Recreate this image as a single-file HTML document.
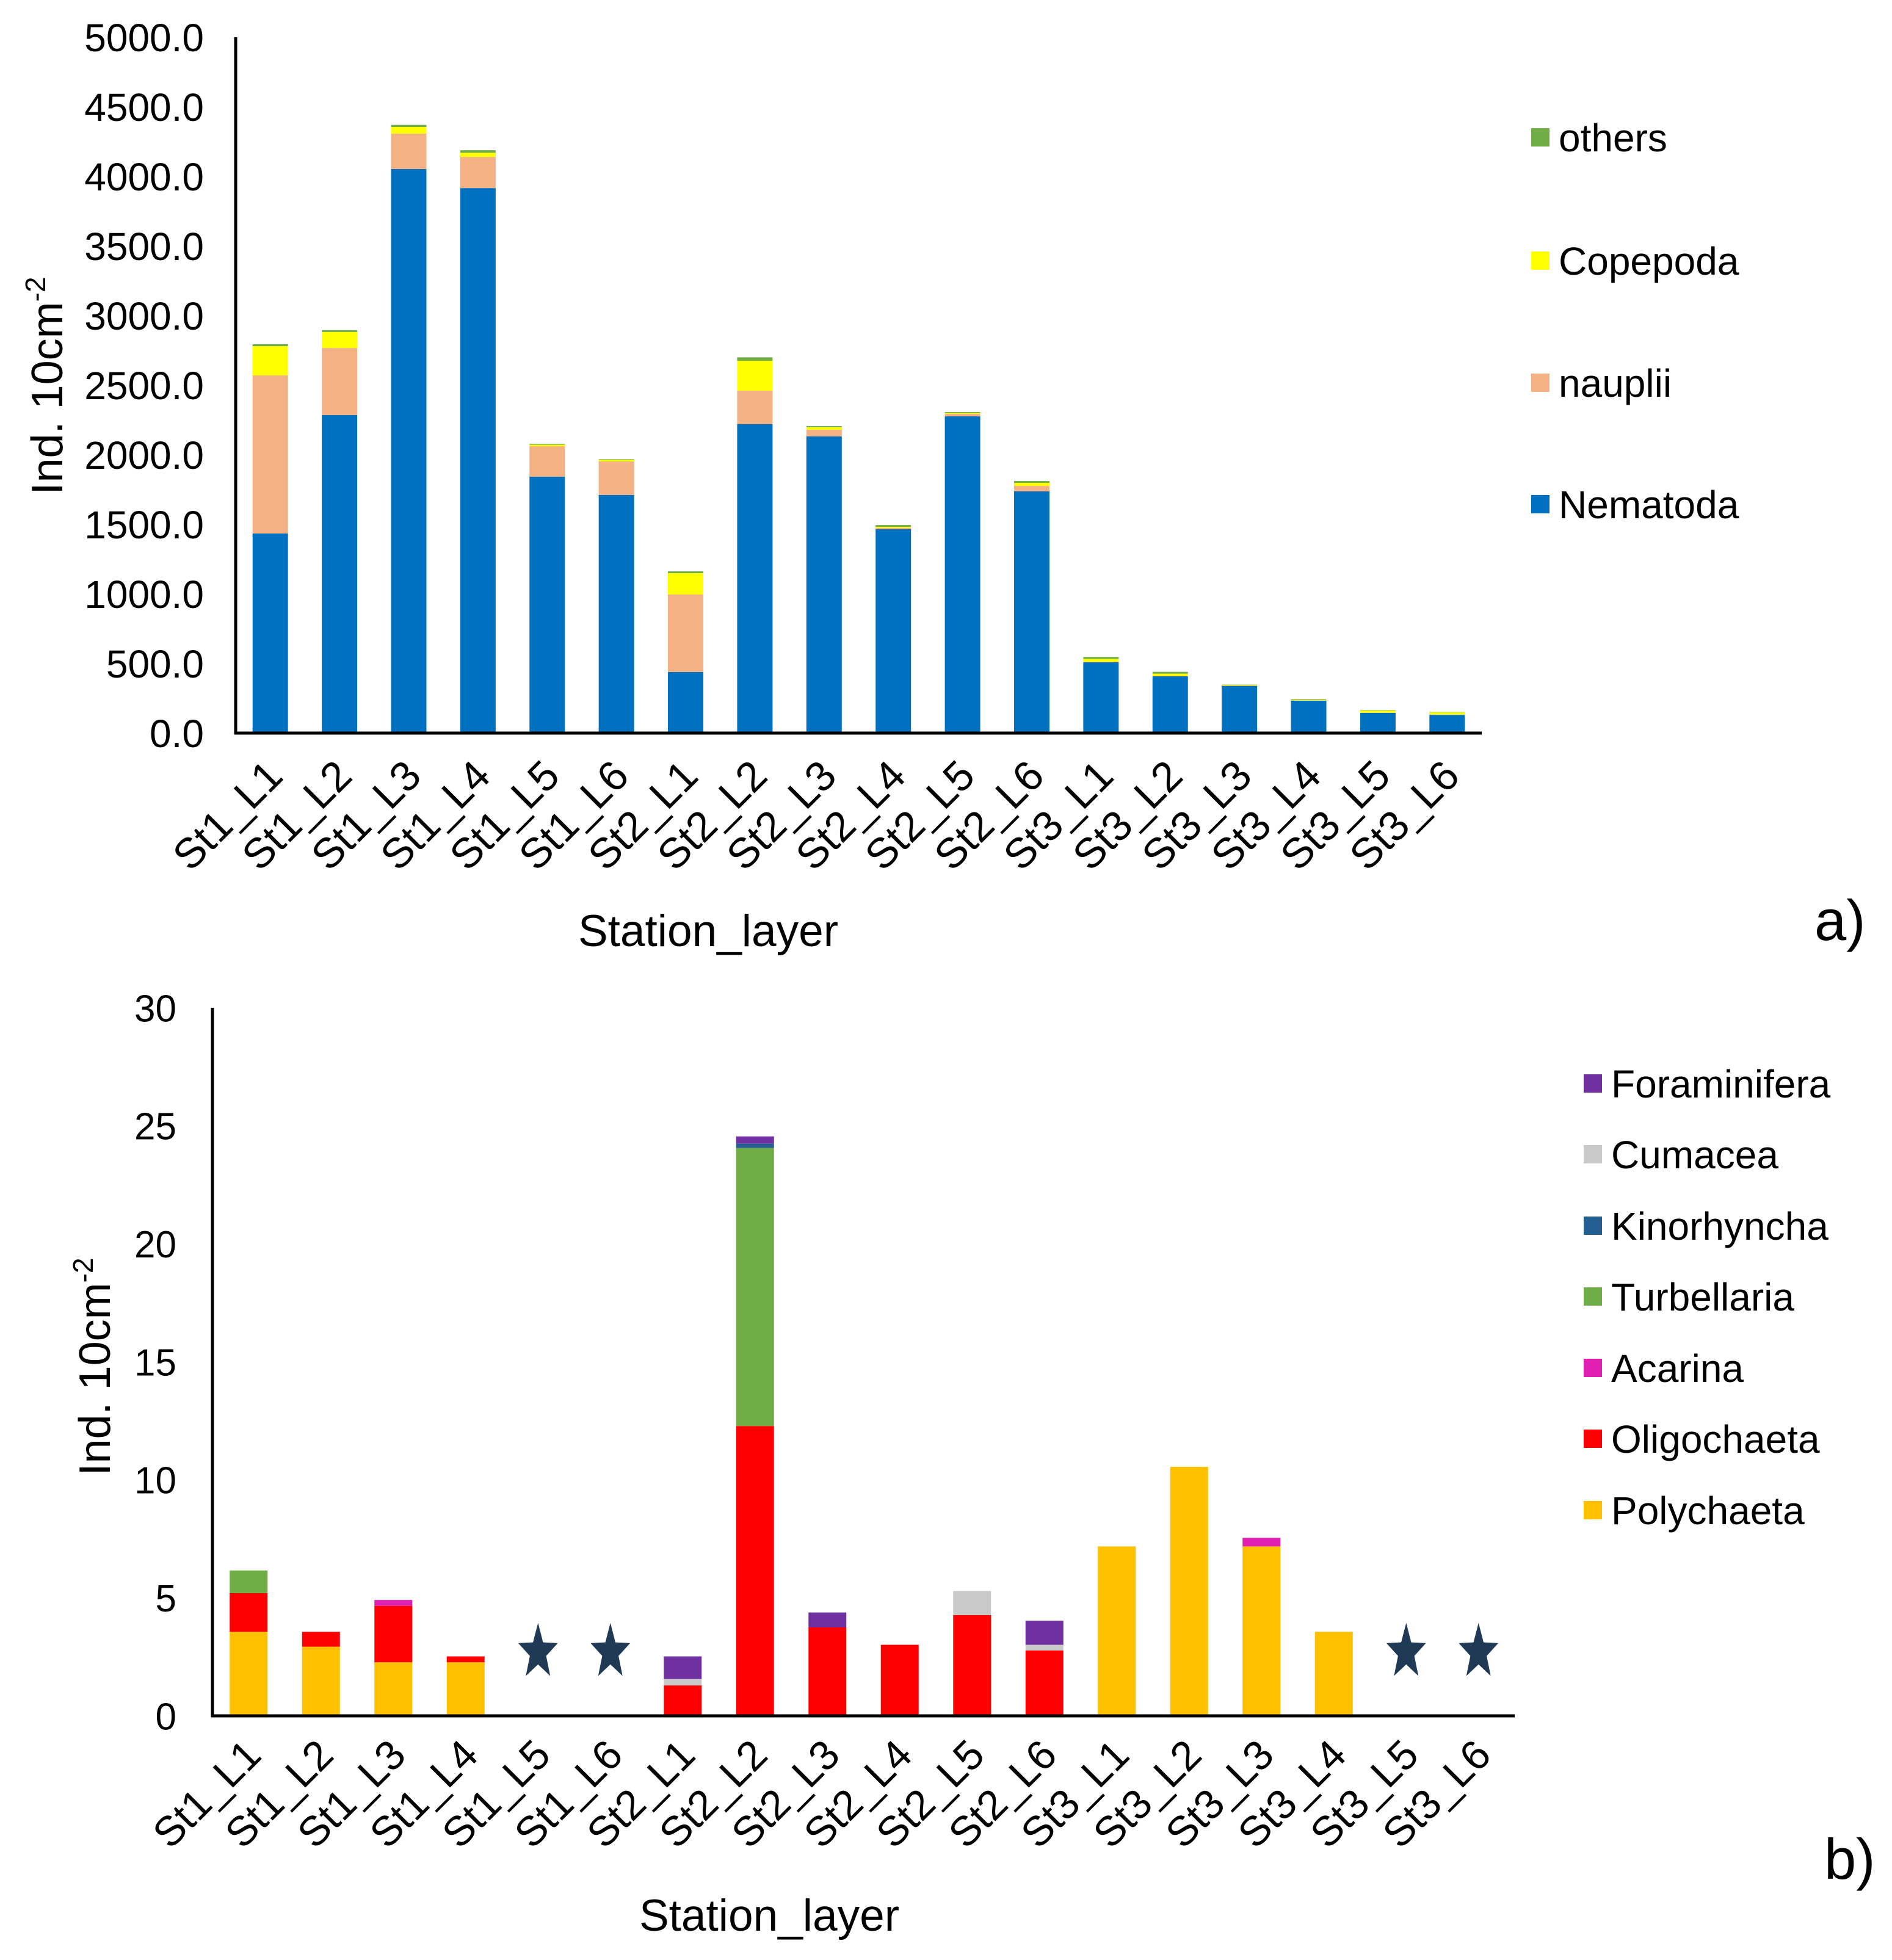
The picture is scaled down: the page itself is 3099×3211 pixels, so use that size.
<!DOCTYPE html>
<html><head><meta charset="utf-8"><style>
html,body{margin:0;padding:0;background:#fff;}
svg{display:block;font-family:"Liberation Sans",Arial,sans-serif;}
</style></head><body>
<svg id="fig" width="3099" height="3211" viewBox="0 0 3099 3211" xmlns="http://www.w3.org/2000/svg">
<g id="chartA"></g>
<g id="chartB"></g>
</svg>
<script>
const categories = ["St1_L1","St1_L2","St1_L3","St1_L4","St1_L5","St1_L6","St2_L1","St2_L2","St2_L3","St2_L4","St2_L5","St2_L6","St3_L1","St3_L2","St3_L3","St3_L4","St3_L5","St3_L6"];
// Chart a
const aNematoda = [1434,2285,4053,3916,1842,1711,439,2220,2132,1465,2276,1737,509,408,338,233,145,131];
const aNauplii  = [1136,482,254,224,219,241,557,241,48,9,18,39,3,2,2,2,2,2];
const aCopepoda = [210,115,48,30,11,12,153,214,18,8,6,22,21,17,4,4,15,16];
const aOthers   = [14,13,15,18,6,4,13,25,8,13,7,13,14,13,4,5,3,3];
const aTicks = ["0.0","500.0","1000.0","1500.0","2000.0","2500.0","3000.0","3500.0","4000.0","4500.0","5000.0"];
const aSeriesNames = ["others","Copepoda","nauplii","Nematoda"];
// Chart b
const bPolychaeta   = [3.56,2.93,2.27,2.27,0,0,0,0,0,0,0,0,7.18,10.55,7.18,3.56,0,0];
const bOligochaeta  = [1.64,0.63,2.39,0.25,0,0,1.29,12.28,3.75,3.01,4.27,2.77,0,0,0,0,0,0];
const bAcarina      = [0,0,0.25,0,0,0,0,0,0,0,0,0,0,0,0.36,0,0,0];
const bTurbellaria  = [0.96,0,0,0,0,0,0,11.78,0,0,0,0,0,0,0,0,0,0];
const bKinorhyncha  = [0,0,0,0,0,0,0,0.19,0,0,0,0,0,0,0,0,0,0];
const bCumacea      = [0,0,0,0,0,0,0.27,0,0,0,1.02,0.24,0,0,0,0,0,0];
const bForaminifera = [0,0,0,0,0,0,0.96,0.30,0.63,0,0,1.02,0,0,0,0,0,0];
const bTicks = ["0","5","10","15","20","25","30"];
const bStars = [0,0,0,0,1,1,0,0,0,0,0,0,0,0,0,0,1,1];
const bStarLevel = 2.8;

const NS = "http://www.w3.org/2000/svg";
function mk(parent, tag, attrs, text){
  const e = document.createElementNS(NS, tag);
  for (const k in attrs) e.setAttribute(k, attrs[k]);
  if (text !== undefined) e.textContent = text;
  parent.appendChild(e);
  return e;
}

function drawChart(g, cfg){
  const n = categories.length;
  const step = (cfg.x1 - cfg.x0) / n;
  const xC = i => cfg.x0 + step * (i + 0.5);
  const yS = v => cfg.yZero - (v / cfg.yMax) * (cfg.yZero - cfg.yTop);
  for (let i = 0; i < n; i++){
    let base = 0;
    cfg.series.forEach((s) => {
      const v = s.values[i];
      if (v > 0){
        const r = mk(g, "rect", {x: xC(i) - cfg.bw/2, y: yS(base+v), width: cfg.bw, height: yS(base) - yS(base+v), fill: s.color});
        
        
      }
      base += v;
    });
  }
  if (cfg.stars){
    cfg.stars.forEach((f, i) => {
      if (!f) return;
      const cx = xC(i), cy = yS(cfg.starLevel), Rx = 34, Ry = 48, rx = 14, ry = 20;
      let pts = [];
      for (let k = 0; k < 10; k++){
        const a = -Math.PI/2 + k*Math.PI/5;
        const ax = k%2===0 ? Rx : rx, ay = k%2===0 ? Ry : ry;
        pts.push((cx + ax*Math.cos(a)).toFixed(1) + "," + (cy + 4 + ay*Math.sin(a)).toFixed(1));
      }
      const st = mk(g, "polygon", {points: pts.join(" "), fill: "#203a55"});
      
      
    });
  }
  const ya = mk(g, "line", {x1: cfg.x0, y1: cfg.yTop, x2: cfg.x0, y2: cfg.yZero+2, stroke: "#000", "stroke-width": 5});
  
  
  const xa = mk(g, "line", {x1: cfg.x0-2, y1: cfg.yZero, x2: cfg.x1, y2: cfg.yZero, stroke: "#000", "stroke-width": 5});
  
  
  cfg.ticks.forEach((t, k) => {
    const v = cfg.yMax * k / (cfg.ticks.length - 1);
    const tt = mk(g, "text", {x: cfg.tickX, y: yS(v) + cfg.tickFont*0.36, "text-anchor": "end", "font-size": cfg.tickFont, fill: "#000"}, t);
    
    
  });
  categories.forEach((c, i) => {
    const ax = xC(i) + cfg.labDx, ay = cfg.yZero + cfg.labDy;
    const t = mk(g, "text", {x: ax, y: ay, "text-anchor": "end", "font-size": cfg.labFont, transform: "rotate(-45 " + ax + " " + ay + ")", fill: "#000"}, c);
    
    
  });
  const xt = mk(g, "text", {x: cfg.xTitleX, y: cfg.xTitleY, "text-anchor": "middle", "font-size": 73, fill: "#000"}, "Station_layer");
  
  
  const yt = mk(g, "text", {x: 0, y: 0, "text-anchor": "middle", "font-size": 72, fill: "#000", transform: "translate(" + cfg.yTitleX + " " + cfg.yTitleY + ") rotate(-90)"});
  
  
  mk(yt, "tspan", {}, "Ind. 10cm");
  mk(yt, "tspan", {dy: -28, "font-size": 46}, "-2");
  cfg.legend.forEach((L, k) => {
    const y = cfg.legY[k];
    const sq = mk(g, "rect", {x: cfg.legX, y: y - 15, width: 30, height: 30, fill: L.color});
    
    
    const lt = mk(g, "text", {x: cfg.legX + 45, y: y + 23, "font-size": 64, fill: "#000"}, L.name);
    
    
  });
  const pl = mk(g, "text", {x: cfg.panelX, y: cfg.panelY, "font-size": 94, fill: "#000"}, cfg.panel);
  
  
}

const cA = {"nematoda":"#0070c0","nauplii":"#f4b183","copepoda":"#ffff00","others":"#70ad47"};
drawChart(document.getElementById("chartA"), {
  x0: 386, x1: 2427, yTop: 61, yZero: 1201, yMax: 5000, bw: 58,
  series: [
    {name:"Nematoda", values:aNematoda, color:cA.nematoda},
    {name:"nauplii", values:aNauplii, color:cA.nauplii},
    {name:"Copepoda", values:aCopepoda, color:cA.copepoda},
    {name:"others", values:aOthers, color:cA.others}
  ],
  ticks: aTicks, tickX: 334, tickFont: 64, labFont: 69, labDx: 24, labDy: 74,
  xTitleX: 1160, xTitleY: 1550, yTitleX: 102, yTitleY: 632,
  legend: aSeriesNames.map(n => ({name:n, color:cA[n.toLowerCase()]})),
  legX: 2508, legY: [225, 427, 627, 826],
  panel: "a)", panelX: 2972, panelY: 1540
});

const cB = {"Foraminifera":"#7030a0","Cumacea":"#c9c9c9","Kinorhyncha":"#255e91","Turbellaria":"#70ad47","Acarina":"#e020b0","Oligochaeta":"#ff0000","Polychaeta":"#ffc000"};
drawChart(document.getElementById("chartB"), {
  x0: 348, x1: 2481, yTop: 1651, yZero: 2811, yMax: 30, bw: 62,
  series: [
    {name:"Polychaeta", values:bPolychaeta, color:cB.Polychaeta},
    {name:"Oligochaeta", values:bOligochaeta, color:cB.Oligochaeta},
    {name:"Acarina", values:bAcarina, color:cB.Acarina},
    {name:"Turbellaria", values:bTurbellaria, color:cB.Turbellaria},
    {name:"Kinorhyncha", values:bKinorhyncha, color:cB.Kinorhyncha},
    {name:"Cumacea", values:bCumacea, color:cB.Cumacea},
    {name:"Foraminifera", values:bForaminifera, color:cB.Foraminifera}
  ],
  stars: bStars, starLevel: bStarLevel,
  ticks: bTicks, tickX: 289, tickFont: 62, labFont: 68, labDx: 24, labDy: 68,
  xTitleX: 1260, xTitleY: 3163, yTitleX: 180, yTitleY: 2239,
  legend: ["Foraminifera","Cumacea","Kinorhyncha","Turbellaria","Acarina","Oligochaeta","Polychaeta"].map(n => ({name:n, color:cB[n]})),
  legX: 2594, legY: [1775, 1891, 2008, 2124, 2241, 2357, 2474],
  panel: "b)", panelX: 2988, panelY: 3078
});
</script>
</body></html>
